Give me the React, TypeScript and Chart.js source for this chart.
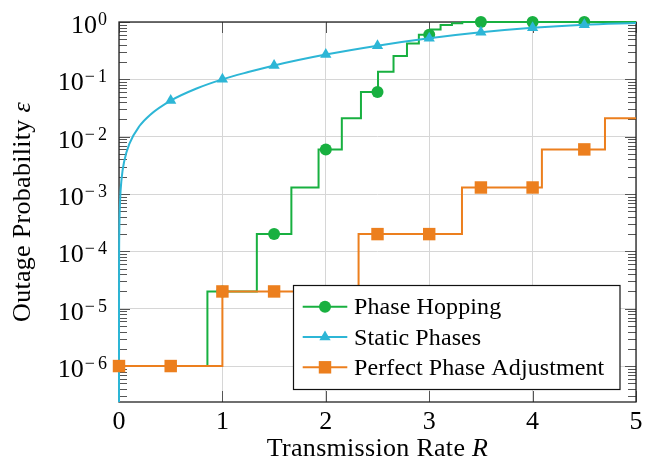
import React, { useEffect, useRef } from 'react';
import { Chart, registerables } from 'chart.js';

Chart.register(...registerables);

// ---------- data ----------
const X_MIN = 0;
const X_MAX = 5;
const X_TICKS = [0, 1, 2, 3, 4, 5];
const Y_MIN = 2.36e-7;
const Y_MAX = 1;
const Y_DECADES = [0, -1, -2, -3, -4, -5, -6];

const SERIES_LABELS = ['Phase Hopping', 'Static Phases', 'Perfect Phase Adjustment'];

const hoppingR = [0, 0.5, 0.855, 1.0, 1.333, 1.5, 1.667, 1.93, 2.0, 2.155, 2.34, 2.5, 2.505, 2.655, 2.785, 2.9, 3.0, 3.01, 3.11, 3.22, 3.32, 3.5, 4.0, 4.5, 5.0];
const hoppingEps = [1e-6, 1e-6, 2e-5, 2e-5, 2e-4, 2e-4, 1.3e-3, 6e-3, 6e-3, 2.1e-2, 6e-2, 6e-2, 0.135, 0.255, 0.42, 0.6, 0.6, 0.74, 0.89, 0.95, 1, 1, 1, 1, 1];

const staticR = [0.000001, 0.00001, 0.0001, 0.001, 0.003, 0.01, 0.025, 0.05, 0.1, 0.2, 0.3, 0.5, 0.75, 1, 1.25, 1.5, 2, 2.5, 3, 3.5, 4, 4.5, 5];
const staticEps = [7.3e-8, 7.3e-7, 7.3e-6, 7.3e-5, 2.2e-4, 7.3e-4, 1.84e-3, 3.7e-3, 7.5e-3, 1.55e-2, 2.4e-2, 4.26e-2, 6.93e-2, 0.1, 0.134, 0.175, 0.271, 0.387, 0.521, 0.662, 0.794, 0.897, 0.962];

const perfectR = [0, 0.5, 1.0, 1.5, 2.0, 2.317, 2.5, 3.0, 3.317, 3.5, 4.0, 4.09, 4.5, 4.7, 5.0];
const perfectEps = [1e-6, 1e-6, 2e-5, 2e-5, 2e-5, 2e-4, 2e-4, 2e-4, 1.3e-3, 1.3e-3, 1.3e-3, 6e-3, 6e-3, 2.1e-2, 2.1e-2];

// ---------- styles ----------
const GREEN = '#18b040';
const CYAN = '#2db6d6';
const ORANGE = '#ec7f1e';
const SERIF = "'Liberation Serif', 'Times New Roman', serif";

const toPoints = (xs: number[], ys: number[]) => xs.map((x, i) => ({ x, y: ys[i] }));
const isMarker = (x: number) => x < 4.99 && Math.abs(x * 2 - Math.round(x * 2)) < 1e-9;

function drawMarker(ctx: CanvasRenderingContext2D, style: string, x: number, y: number, r: number, color: string) {
  ctx.save();
  ctx.fillStyle = color;
  ctx.beginPath();
  if (style === 'circle') {
    ctx.arc(x, y, r, 0, Math.PI * 2);
  } else if (style === 'triangle') {
    ctx.moveTo(x, y - r);
    ctx.lineTo(x + r * Math.sin((2 * Math.PI) / 3), y - r * Math.cos((2 * Math.PI) / 3));
    ctx.lineTo(x + r * Math.sin((4 * Math.PI) / 3), y - r * Math.cos((4 * Math.PI) / 3));
    ctx.closePath();
  } else {
    const s = Math.SQRT1_2 * r;
    ctx.rect(x - s, y - s, 2 * s, 2 * s);
  }
  ctx.fill();
  ctx.restore();
}

const framePlugin = {
  id: 'frameTicks',
  beforeDatasetsDraw(chart: any) {
    const { ctx, chartArea: a, scales } = chart;
    const xs = scales.x;
    const ys = scales.y;
    ctx.save();
    ctx.strokeStyle = '#555';
    ctx.lineWidth = 1;
    ctx.beginPath();
    for (let e = -7; e <= 0; e++) {
      for (let m = 1; m <= 9; m++) {
        const v = m * Math.pow(10, e);
        if (v < Y_MIN || v > Y_MAX) continue;
        const py = Math.round(ys.getPixelForValue(v)) + 0.5;
        const len = m === 1 ? 11 : 8;
        ctx.moveTo(a.left, py);
        ctx.lineTo(a.left + len, py);
        ctx.moveTo(a.right, py);
        ctx.lineTo(a.right - len, py);
      }
    }
    for (const t of X_TICKS) {
      const px = Math.round(xs.getPixelForValue(t)) + 0.5;
      ctx.moveTo(px, a.bottom);
      ctx.lineTo(px, a.bottom - 11);
      ctx.moveTo(px, a.top);
      ctx.lineTo(px, a.top + 11);
    }
    ctx.stroke();
    ctx.strokeStyle = '#222';
    ctx.lineWidth = 1.3;
    ctx.strokeRect(a.left, a.top, a.right - a.left, a.bottom - a.top);
    ctx.restore();
  },
  afterDraw(chart: any) {
    const { ctx, chartArea: a, scales } = chart;
    const xs = scales.x;
    const ys = scales.y;
    ctx.save();
    ctx.fillStyle = '#000';
    ctx.textBaseline = 'alphabetic';

    // x tick labels
    ctx.font = `26px ${SERIF}`;
    ctx.textAlign = 'center';
    for (const t of X_TICKS) {
      ctx.fillText(String(t), xs.getPixelForValue(t), 429);
    }

    // y tick labels 10^e
    for (const e of Y_DECADES) {
      const py = ys.getPixelForValue(Math.pow(10, e));
      const baseY = py + 11;
      const xEnd = 107;
      ctx.textAlign = 'right';
      ctx.font = `18px ${SERIF}`;
      const digit = String(Math.abs(e));
      const dW = ctx.measureText(digit).width;
      ctx.fillText(digit, xEnd, baseY - 8);
      let expW = dW;
      if (e < 0) {
        const mW = ctx.measureText('\u2212').width;
        ctx.fillText('\u2212', xEnd - dW - 3, baseY - 8);
        expW = dW + 3 + mW;
      }
      ctx.font = `26px ${SERIF}`;
      ctx.fillText('10', xEnd - expW - 1, baseY);
    }

    const setSpacing = (v: string) => { (ctx as any).letterSpacing = v; };

    // x title
    setSpacing('0.3px');
    const cx = (a.left + a.right) / 2;
    ctx.font = `26px ${SERIF}`;
    const t1 = 'Transmission Rate ';
    const w1 = ctx.measureText(t1).width;
    ctx.font = `italic 26px ${SERIF}`;
    const w2 = ctx.measureText('R').width;
    const sx = cx - (w1 + w2) / 2;
    ctx.textAlign = 'left';
    ctx.font = `26px ${SERIF}`;
    ctx.fillText(t1, sx, 456);
    ctx.font = `italic 26px ${SERIF}`;
    ctx.fillText('R', sx + w1, 456);

    // y title
    const cy = (a.top + a.bottom) / 2;
    ctx.save();
    ctx.translate(30, cy);
    ctx.rotate(-Math.PI / 2);
    ctx.font = `26px ${SERIF}`;
    const y1 = 'Outage Probability ';
    const yw1 = ctx.measureText(y1).width;
    ctx.font = `italic 26px ${SERIF}`;
    const yw2 = ctx.measureText('\u03b5').width;
    const sy = -(yw1 + yw2) / 2;
    ctx.textAlign = 'left';
    ctx.font = `26px ${SERIF}`;
    ctx.fillText(y1, sy, 0);
    ctx.font = `italic 26px ${SERIF}`;
    ctx.fillText('\u03b5', sy + yw1, 0);
    ctx.restore();

    // legend
    setSpacing('0.1px');
    const L = { x: 293.5, y: 285.5, w: 326.5, h: 104 };
    ctx.fillStyle = '#fff';
    ctx.fillRect(L.x, L.y, L.w, L.h);
    ctx.strokeStyle = '#111';
    ctx.lineWidth = 1.2;
    ctx.strokeRect(L.x, L.y, L.w, L.h);
    const rows = [306.7, 337, 367.3];
    chart.data.datasets.forEach((ds: any, i: number) => {
      const ry = rows[i];
      ctx.strokeStyle = ds.borderColor;
      ctx.lineWidth = 2;
      ctx.beginPath();
      ctx.moveTo(302.7, ry);
      ctx.lineTo(347.3, ry);
      ctx.stroke();
      drawMarker(ctx, ds.pointStyle, 325, ry, ds.markerRadius, ds.borderColor);
      ctx.fillStyle = '#000';
      ctx.font = `24px ${SERIF}`;
      ctx.textAlign = 'left';
      ctx.fillText(ds.label, 354, ry + 7.5);
    });
    setSpacing('0px');
    ctx.restore();
  },
};

export default function App() {
  const ref = useRef<HTMLCanvasElement>(null);
  useEffect(() => {
    document.body.style.margin = '0';
    const canvas = ref.current!;
    const mk = (label: string, xs: number[], ys: number[], color: string, style: string, r: number, stepped: any, order: number, extra: any = {}) => ({
      label,
      data: toPoints(xs, ys),
      borderColor: color,
      backgroundColor: color,
      borderWidth: 2,
      pointStyle: style,
      markerRadius: r,
      pointRadius: (c: any) => (c.raw && isMarker(c.raw.x) ? r : 0),
      pointHoverRadius: (c: any) => (c.raw && isMarker(c.raw.x) ? r : 0),
      pointBorderWidth: 0,
      pointBackgroundColor: color,
      stepped,
      order,
      ...extra,
    });
    const chart = new Chart(canvas, {
      type: 'line',
      data: {
        datasets: [
          mk(SERIES_LABELS[0], hoppingR, hoppingEps, GREEN, 'circle', 6, 'before', 3, { clip: { left: 10, top: 10, right: 0, bottom: 0 } }),
          mk(SERIES_LABELS[1], staticR, staticEps, CYAN, 'triangle', 6.5, false, 2, { cubicInterpolationMode: 'monotone', clip: { left: 2, top: 10, right: 0, bottom: 0 } }),
          mk(SERIES_LABELS[2], perfectR, perfectEps, ORANGE, 'rect', 8.8, 'before', 1, { clip: { left: 10, top: 10, right: 0, bottom: 0 } }),
        ] as any,
      },
      options: {
        animation: false,
        responsive: false,
        devicePixelRatio: 1,
        layout: { padding: { left: 0, top: 22, right: 13, bottom: 0 } },
        plugins: { legend: { display: false }, tooltip: { enabled: false } },
        events: [],
        scales: {
          x: {
            type: 'linear',
            min: X_MIN,
            max: X_MAX,
            afterBuildTicks: (s: any) => { s.ticks = X_TICKS.map((v) => ({ value: v })); },
            afterFit: (s: any) => { s.height = 64; },
            ticks: { display: false },
            grid: { color: '#d6d6d6', lineWidth: 1, drawTicks: false },
            border: { display: false },
          },
          y: {
            type: 'logarithmic',
            min: Y_MIN,
            max: Y_MAX,
            afterBuildTicks: (s: any) => { s.ticks = Y_DECADES.map((e) => ({ value: Math.pow(10, e) })); },
            afterFit: (s: any) => { s.width = 119; },
            ticks: { display: false },
            grid: { color: '#d6d6d6', lineWidth: 1, drawTicks: false },
            border: { display: false },
          },
        },
      } as any,
      plugins: [framePlugin],
    });
    return () => chart.destroy();
  }, []);
  return (
    <div style={{ position: 'fixed', left: 0, top: 0, width: 649, height: 466, background: '#fff' }}>
      <canvas ref={ref} width={649} height={466} style={{ width: 649, height: 466, display: 'block' }} />
    </div>
  );
}
